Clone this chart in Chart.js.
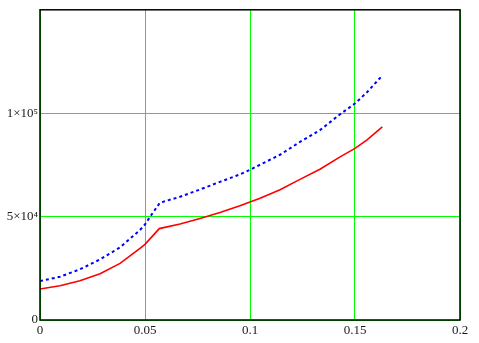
<!DOCTYPE html>
<html>
<head>
<meta charset="utf-8">
<script src="https://cdn.jsdelivr.net/npm/chart.js@4"></script>
<style>
  html, body { margin: 0; padding: 0; background: #fff; }
  #wrap { width: 479px; height: 343px; }
</style>
</head>
<body>
<div id="wrap"><canvas id="c" width="479" height="343"></canvas></div>
<script>
/* ─── data ─── */
const X_RED  = [0, 0.0095, 0.019, 0.0286, 0.0381, 0.0476, 0.05, 0.0568, 0.0667, 0.0762, 0.0857,
                0.0952, 0.1048, 0.1143, 0.1238, 0.1333, 0.1429, 0.15, 0.1556, 0.163];
const Y_RED  = [15000, 16600, 19000, 22400, 27400, 34600, 36600, 44200, 46400, 49100, 52000,
                55200, 58900, 63000, 68000, 72900, 78900, 83000, 87000, 93400];
const X_BLUE = [0, 0.0095, 0.019, 0.0286, 0.0381, 0.0476, 0.05, 0.0524, 0.0571, 0.0667, 0.0762,
                0.0857, 0.0952, 0.0997, 0.1143, 0.1238, 0.1333, 0.1429, 0.15, 0.1556, 0.1627];
const Y_BLUE = [18800, 20900, 24500, 29300, 35100, 43500, 46200, 49900, 56700, 59600, 63100,
                66800, 70400, 72500, 79900, 86100, 91800, 99500, 104700, 110000, 117900];

const X_TICKS = [0, 0.05, 0.1, 0.15, 0.2];
const X_LABELS = ['0', '0.05', '0.1', '0.15', '0.2'];
const Y_TICKS = [0, 50000, 100000];
const Y_LABELS = ['0', '5×10⁴', '1×10⁵'];

const FONT = { family: '"Liberation Serif", "DejaVu Serif", serif', size: 13 };

const pts = (xs, ys) => xs.map((x, i) => ({ x, y: ys[i] }));

/* frame around the plot area */
const framePlugin = {
  id: 'frame',
  afterDraw(chart) {
    const { ctx, chartArea: a } = chart;
    ctx.save();
    ctx.strokeStyle = '#000';
    ctx.lineWidth = 1.5;
    ctx.strokeRect(a.left, a.top, a.right - a.left, a.bottom - a.top);
    ctx.restore();
  },
};

new Chart(document.getElementById('c'), {
  type: 'scatter',
  data: {
    datasets: [
      {
        data: pts(X_RED, Y_RED),
        showLine: true,
        borderColor: '#ff0000',
        borderWidth: 1.6,
        pointRadius: 0,
        tension: 0,
      },
      {
        data: pts(X_BLUE, Y_BLUE),
        showLine: true,
        borderColor: '#0000ff',
        borderWidth: 2,
        borderDash: [3, 3],
        pointRadius: 0,
        tension: 0,
      },
    ],
  },
  options: {
    responsive: false,
    animation: false,
    layout: { padding: { top: 8, right: 19 } },
    plugins: { legend: { display: false }, tooltip: { enabled: false } },
    scales: {
      x: {
        type: 'linear',
        min: 0,
        max: 0.2,
        afterBuildTicks: s => { s.ticks = X_TICKS.map(v => ({ value: v })); },
        afterFit: s => { s.height = 23; },
        grid: { color: '#00ff00', lineWidth: 1, drawTicks: false },
        border: { display: false },
        ticks: {
          color: '#1a1a1a',
          font: FONT,
          padding: 3,
          maxRotation: 0,
          callback: (v, i) => X_LABELS[i],
        },
      },
      y: {
        type: 'linear',
        min: 0,
        max: 150000,
        afterBuildTicks: s => { s.ticks = Y_TICKS.map(v => ({ value: v })); },
        afterFit: s => { s.width = 40; },
        grid: { color: '#00ff00', lineWidth: 1, drawTicks: false },
        border: { display: false },
        ticks: {
          color: '#1a1a1a',
          font: FONT,
          padding: 2,
          callback: (v, i) => Y_LABELS[i],
        },
      },
    },
  },
  plugins: [framePlugin],
});
</script>
</body>
</html>
